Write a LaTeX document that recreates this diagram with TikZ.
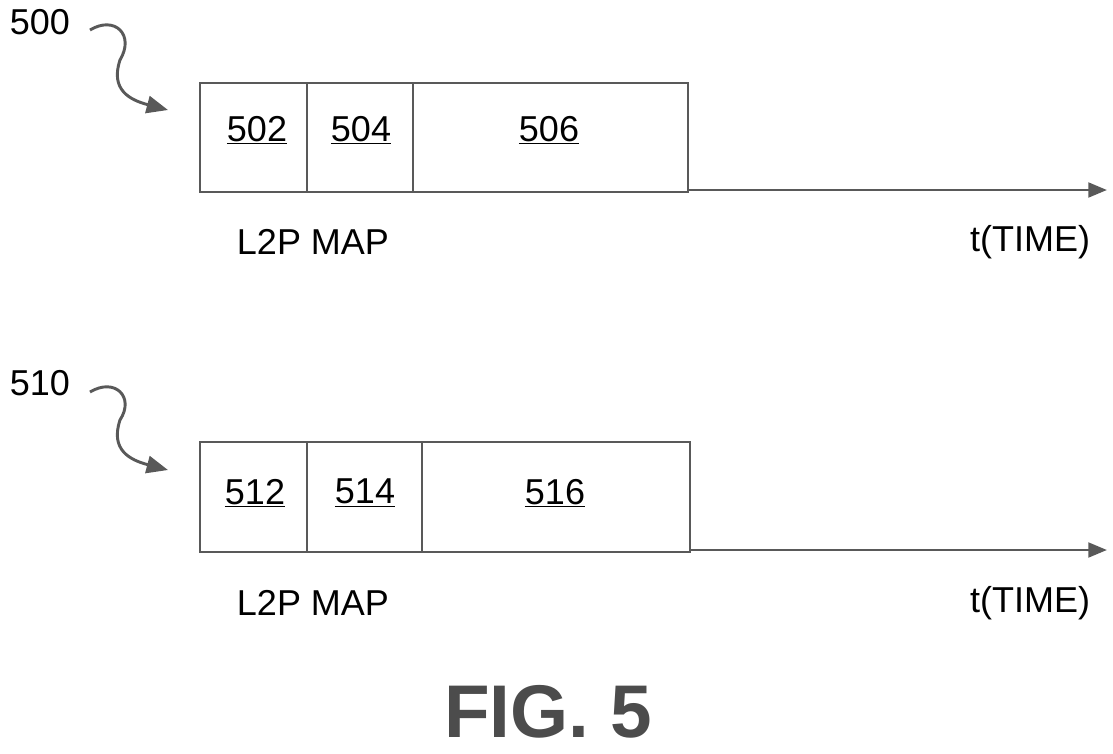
\documentclass[tikz,border=0pt]{standalone}
\usepackage{fontspec}
\setmainfont{Liberation Sans}
\usetikzlibrary{arrows.meta}
\begin{document}
\begin{tikzpicture}[x=0.75pt,y=-0.75pt,
  ln/.style={draw=black!65,line width=2.2pt},
  lbl/.style={font=\fontsize{27}{30}\selectfont,inner sep=0pt},
  arr/.style={ln,-{Triangle[length=14pt,width=11pt]}},
  sq/.style={ln,-{Triangle[length=16pt,width=13pt]}}]
\useasboundingbox (0,0) rectangle (1113,753);
% top
\node[lbl] (n500) at (40,22) {500};
\draw[ln] (200,83) rectangle (688,192);
\draw[ln] (307,83) -- (307,192);
\draw[ln] (413,83) -- (413,192);
\coordinate (a1) at (688,190);
\coordinate (a1e) at (1107,190);
\draw[arr] (a1) -- (a1e);
\coordinate (s1) at (90,30);
\coordinate (s1e) at (168,110);
\draw[sq] (s1) .. controls (115,15) and (135,35) .. (120,60) .. controls (110,90) and (130,100) .. (s1e);
\node[lbl] (n502) at (257,130) {\underline{502}};
\node[lbl] (n504) at (361,130) {\underline{504}};
\node[lbl] (n506) at (549,130) {\underline{506}};
\node[lbl] (m1) at (313,242) {L2P MAP};
\node[lbl] (t1) at (1030,242) {t(TIME)};
% bottom
\node[lbl] (n510) at (40,383) {510};
\draw[ln] (200,442) rectangle (690,552);
\draw[ln] (307,442) -- (307,552);
\draw[ln] (422,442) -- (422,552);
\coordinate (a2) at (690,550);
\coordinate (a2e) at (1107,550);
\draw[arr] (a2) -- (a2e);
\coordinate (s2) at (90,392);
\coordinate (s2e) at (168,470);
\draw[sq] (s2) .. controls (115,377) and (135,397) .. (120,420) .. controls (110,450) and (130,460) .. (s2e);
\node[lbl] (n512) at (255,493) {\underline{512}};
\node[lbl] (n514) at (365,493) {\underline{514}};
\node[lbl] (n516) at (555,493) {\underline{516}};
\node[lbl] (m2) at (313,603) {L2P MAP};
\node[lbl] (t2) at (1030,603) {t(TIME)};
\node[inner sep=0pt,font=\fontsize{56}{60}\selectfont\bfseries,text=black!70] (fig) at (548,712) {FIG. 5};
\end{tikzpicture}
\end{document}
